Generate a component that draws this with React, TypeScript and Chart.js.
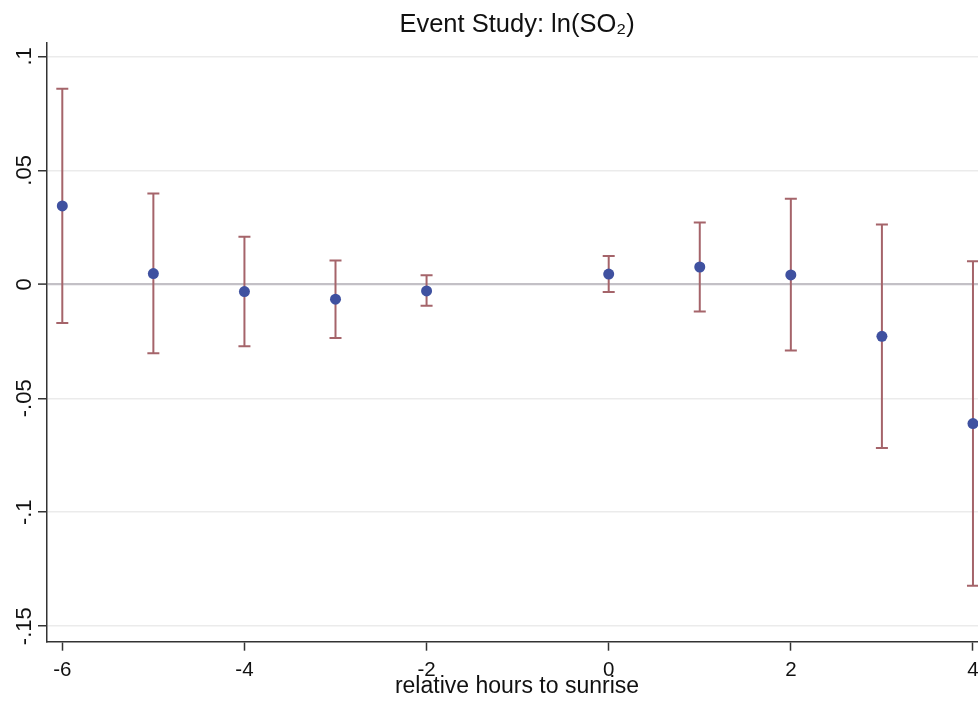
import React, { useEffect, useRef } from "react";
import { Chart, registerables } from "chart.js";

Chart.register(...registerables);

// ---- data ----
const hours = [-6, -5, -4, -3, -2, 0, 1, 2, 3, 4];
const estimates = [0.0344, 0.0047, -0.0032, -0.0065, -0.0029, 0.0045, 0.0076, 0.0041, -0.0228, -0.0611];
const ciLower = [-0.017, -0.0302, -0.0272, -0.0235, -0.0094, -0.0034, -0.0119, -0.029, -0.0718, -0.1323];
const ciUpper = [0.0858, 0.0398, 0.0209, 0.0104, 0.004, 0.0124, 0.0271, 0.0375, 0.0262, 0.0101];

const xTickValues = [-6, -4, -2, 0, 2, 4];
const xTickLabels = ["-6", "-4", "-2", "0", "2", "4"];
const yTickValues = [-0.15, -0.1, -0.05, 0, 0.05, 0.1];
const yTickLabels = ["-.15", "-.1", "-.05", "0", ".05", ".1"];

const titleText = "Event Study: ln(SO\u2082)";
const xTitleText = "relative hours to sunrise";

const FONT = "'Liberation Sans', Arial, Helvetica, sans-serif";
const DOT_COLOR = "#3f51a0";
const BAR_COLOR = "#a5646a";

export default function App() {
  const canvasRef = useRef<HTMLCanvasElement | null>(null);

  useEffect(() => {
    const canvas = canvasRef.current;
    if (!canvas) return;

    const ciDatasets = hours.map((h, i) => ({
      type: "scatter" as const,
      data: [
        { x: h, y: ciLower[i] },
        { x: h, y: ciUpper[i] },
      ],
      showLine: true,
      borderColor: BAR_COLOR,
      borderWidth: 2,
      pointStyle: "line" as const,
      pointRadius: 6,
      pointHoverRadius: 6,
      pointBorderColor: BAR_COLOR,
      pointBorderWidth: 2,
      order: 1,
    }));

    const chart = new Chart(canvas, {
      type: "scatter",
      data: {
        datasets: [
          {
            data: hours.map((h, i) => ({ x: h, y: estimates[i] })),
            backgroundColor: DOT_COLOR,
            borderColor: DOT_COLOR,
            pointRadius: 5.5,
            pointHoverRadius: 5.5,
            borderWidth: 0,
            order: -1,
          },
          ...ciDatasets,
        ],
      },
      options: {
        animation: false,
        responsive: false,
        events: [],
        layout: { padding: { left: 0, right: 3, top: 0, bottom: 0 } },
        plugins: {
          legend: { display: false },
          tooltip: { enabled: false },
          title: {
            display: true,
            text: titleText,
            fullSize: false,
            color: "#111",
            font: { family: FONT, size: 25.5, weight: "normal" },
            padding: { top: 9.3, bottom: 2.6 },
          },
        },
        scales: {
          x: {
            type: "linear",
            min: -6.168,
            max: 4.154,
            afterBuildTicks: (scale: any) => {
              scale.ticks = xTickValues.map((v) => ({ value: v }));
            },
            afterFit: (scale: any) => {
              scale.height = 64.3;
            },
            ticks: {
              callback: (_v: any, idx: number) => xTickLabels[idx],
              color: "#111",
              font: { family: FONT, size: 20.5 },
              padding: 7,
              maxRotation: 0,
              minRotation: 0,
              autoSkip: false,
            },
            grid: {
              drawOnChartArea: false,
              drawTicks: true,
              tickLength: 9,
              tickColor: "#333",
              tickWidth: 1.5,
            },
            border: { display: true, color: "#333", width: 1.5 },
            title: {
              display: true,
              text: xTitleText,
              color: "#111",
              font: { family: FONT, size: 23 },
              padding: { top: 0, bottom: 5.5 },
            },
          },
          y: {
            type: "linear",
            min: -0.1568,
            max: 0.1061,
            afterBuildTicks: (scale: any) => {
              scale.ticks = yTickValues.map((v) => ({ value: v }));
            },
            afterFit: (scale: any) => {
              scale.width = 47;
            },
            ticks: {
              callback: (_v: any, idx: number) => yTickLabels[idx],
              color: "#111",
              font: { family: FONT, size: 22 },
              minRotation: 90,
              maxRotation: 90,
              crossAlign: "center",
              padding: -6,
              autoSkip: false,
            },
            grid: {
              color: (ctx: any) => (ctx.tick && ctx.tick.value === 0 ? "#c3c0c6" : "#ebebeb"),
              lineWidth: (ctx: any) => (ctx.tick && ctx.tick.value === 0 ? 2.2 : 1.5),
              drawTicks: true,
              tickLength: 9,
              tickColor: "#333",
              tickWidth: 1.5,
            },
            border: { display: true, color: "#333", width: 1.5 },
          },
        },
      },
    } as any);

    return () => chart.destroy();
  }, []);

  return (
    <div
      style={{
        position: "fixed",
        left: 0,
        top: 0,
        width: 978,
        height: 706,
        overflow: "hidden",
        background: "#fff",
      }}
    >
      <canvas ref={canvasRef} width={995} height={706} style={{ display: "block" }} />
    </div>
  );
}
